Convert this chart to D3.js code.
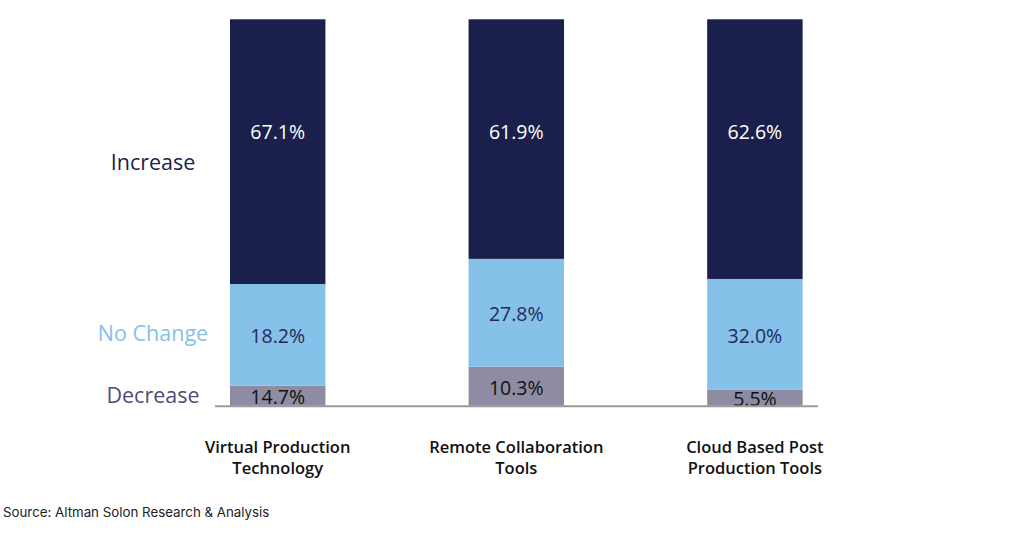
<!DOCTYPE html>
<html>
<head>
<meta charset="utf-8">
<script src="https://cdn.jsdelivr.net/npm/d3@7"></script>
<style>
  body { margin: 0; background: #fff; }
  svg { display: block; font-family: "Open Sans", "Noto Sans", sans-serif; }
</style>
</head>
<body>
<svg id="chart" width="1024" height="549"></svg>
<script>
// categories, two lines each as in the picture
var categories = ["Virtual Production Technology", "Remote Collaboration Tools", "Cloud Based Post Production Tools"];
var categoryLines = [["Virtual Production", "Technology"], ["Remote Collaboration", "Tools"], ["Cloud Based Post", "Production Tools"]];

// segment heights as drawn in the picture (% of bar)
var increase = [68.5, 62.0, 67.2];
var noChange = [26.3, 27.9, 28.7];
var decrease = [5.2, 10.1, 4.1];

// printed labels
var increaseLabels = ["67.1%", "61.9%", "62.6%"];
var noChangeLabels = ["18.2%", "27.8%", "32.0%"];
var decreaseLabels = ["14.7%", "10.3%", "5.5%"];

var seriesNames = ["Increase", "No Change", "Decrease"];
var colors = {"Increase": "#1b1f4b", "No Change": "#85c1e9", "Decrease": "#8e8ca3"};
var legendColors = {"Increase": "#1b1f4b", "No Change": "#85c1e9", "Decrease": "#4e4c7a"};

var svg = d3.select("#chart");

var x = d3.scaleBand()
  .domain(categories)
  .range([158.4, 874.2])
  .paddingInner(0.6)
  .paddingOuter(0.3);

var y = d3.scaleLinear().domain([0, 100]).range([405.7, 19.3]);

var rows = categories.map(function(c, i) {
  return {cat: c, "Decrease": decrease[i], "No Change": noChange[i], "Increase": increase[i], i: i};
});

var stack = d3.stack().keys(["Decrease", "No Change", "Increase"]);
var layers = stack(rows);

var labelSets = {"Increase": increaseLabels, "No Change": noChangeLabels, "Decrease": decreaseLabels};
var labelColors = {"Increase": "#ffffff", "No Change": "#252a5a", "Decrease": "#111111"};

var g = svg.selectAll("g.layer").data(layers).enter().append("g").attr("class", "layer");

g.selectAll("rect").data(function(d) { return d.map(function(s) { s.key = d.key; return s; }); })
  .enter().append("rect")
  .attr("x", function(d) { return x(d.data.cat); })
  .attr("width", x.bandwidth())
  .attr("y", function(d) { return y(d[1]); })
  .attr("height", function(d) { return y(d[0]) - y(d[1]); })
  .attr("fill", function(d) { return colors[d.key]; });

g.selectAll("text").data(function(d) { return d; })
  .enter().append("text")
  .attr("x", function(d) { return x(d.data.cat) + x.bandwidth() / 2; })
  .attr("y", function(d) {
    if (d.key === "Increase") return y(71);
    return (y(d[0]) + y(d[1])) / 2 + 1;
  })
  .attr("text-anchor", "middle")
  .attr("dominant-baseline", "central")
  .style("font-size", "19.5px")
  .style("font-weight", 500)
  .attr("fill", function(d) { return labelColors[d.key]; })
  .text(function(d) { return labelSets[d.key][d.data.i]; });

// baseline
svg.append("line")
  .attr("x1", 215).attr("x2", 818)
  .attr("y1", y(0) + 0.5).attr("y2", y(0) + 0.5)
  .attr("stroke", "#9a9a9a").attr("stroke-width", 2);

// series labels on the left
var legendY = {"Increase": 161, "No Change": 332, "Decrease": 394};
svg.selectAll("text.legend").data(seriesNames).enter().append("text")
  .attr("class", "legend")
  .attr("x", 153)
  .attr("y", function(d) { return legendY[d]; })
  .attr("text-anchor", "middle")
  .attr("dominant-baseline", "central")
  .style("font-size", "21.5px")
  .style("font-weight", 500)
  .attr("fill", function(d) { return legendColors[d]; })
  .text(function(d) { return d; });

// category labels
var cat = svg.selectAll("text.cat").data(categories).enter().append("text")
  .attr("class", "cat")
  .attr("x", function(d) { return x(d) + x.bandwidth() / 2; })
  .attr("y", 453)
  .attr("text-anchor", "middle")
  .style("font-size", "16.5px")
  .style("font-weight", 600)
  .attr("fill", "#111");
cat.selectAll("tspan").data(function(d, i) { return categoryLines[i]; })
  .enter().append("tspan")
  .attr("x", function() { return d3.select(this.parentNode).attr("x"); })
  .attr("dy", function(d, i) { return i ? 21 : 0; })
  .text(function(d) { return d; });

svg.append("text")
  .attr("x", 3).attr("y", 517)
  .style("font-family", "Inter, 'Liberation Sans', sans-serif")
  .style("font-size", "13.3px")
  .attr("fill", "#222")
  .text("Source: Altman Solon Research & Analysis");
</script>
</body>
</html>
